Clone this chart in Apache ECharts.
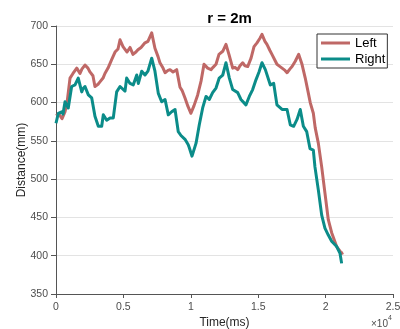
<!DOCTYPE html>
<html>
<head>
<meta charset="utf-8">
<script src="https://cdn.jsdelivr.net/npm/echarts@6/dist/echarts.min.js"></script>
<style>
  html, body { margin: 0; padding: 0; background: #fff; }
  #chart { width: 400px; height: 329px; }
</style>
</head>
<body>
<div id="chart"></div>
<script>
// Distance measured by the left and right sensors over time (r = 2m)
const leftTime = [0, 220, 450, 670, 820, 1040, 1260, 1540, 1780, 1930, 2150, 2370, 2520, 2740, 2890, 3120, 3260, 3490, 3630, 3860, 4130, 4380, 4600, 4750, 4970, 5270, 5490, 5710, 5930, 6080, 6310, 6600, 6820, 7100, 7340, 7570, 7710, 7940, 8090, 8310, 8460, 8680, 8950, 9200, 9350, 9570, 9790, 10010, 10240, 10510, 10760, 10980, 11250, 11500, 11650, 11870, 12090, 12370, 12610, 12830, 13110, 13280, 13480, 13650, 13850, 14020, 14220, 14470, 14690, 14910, 15130, 15280, 15500, 15650, 15870, 16020, 16250, 16390, 16620, 16770, 16990, 17140, 17360, 17510, 17750, 18000, 18250, 18490, 18690, 18860, 19090, 19230, 19460, 19710, 19950, 20200, 20450, 20820, 21190, 21310];
const leftDist = [583, 585, 579, 588, 600, 632, 638, 645, 638, 644, 649, 645, 640, 635, 621, 624, 627, 632, 638, 645, 656, 666, 670, 682, 673, 666, 672, 663, 666, 669, 672, 678, 680, 691, 671, 660, 652, 645, 639, 642, 643, 640, 643, 620, 616, 606, 595, 586, 596, 610, 628, 650, 645, 643, 646, 650, 663, 667, 676, 663, 645, 646, 643, 648, 652, 648, 647, 658, 673, 678, 684, 689, 680, 676, 668, 663, 655, 650, 647, 645, 642, 639, 644, 647, 654, 663, 650, 632, 615, 600, 586, 567, 547, 516, 482, 447, 430, 412, 403, 404];

const rightTime = [0, 170, 420, 520, 670, 910, 1160, 1410, 1650, 1910, 2000, 2150, 2400, 2650, 2890, 3140, 3390, 3510, 3760, 4010, 4250, 4500, 4750, 5120, 5240, 5490, 5730, 5990, 6110, 6360, 6600, 6820, 7100, 7200, 7340, 7590, 7840, 8090, 8330, 8580, 8830, 9070, 9270, 9570, 9810, 9890, 10090, 10390, 10630, 10880, 11130, 11370, 11620, 11870, 12110, 12370, 12610, 12860, 13110, 13480, 13720, 14090, 14340, 14590, 14840, 15060, 15280, 15530, 15900, 16150, 16390, 16770, 17140, 17380, 17630, 17880, 18120, 18350, 18600, 18840, 19090, 19210, 19460, 19710, 19950, 20200, 20450, 20820, 21070, 21190];
const rightDist = [573, 586, 588, 585, 601, 593, 621, 623, 632, 614, 618, 621, 610, 606, 582, 569, 569, 584, 577, 580, 580, 614, 621, 615, 632, 625, 623, 636, 625, 641, 636, 641, 658, 660, 641, 612, 601, 604, 584, 588, 591, 562, 557, 552, 545, 541, 530, 547, 571, 593, 608, 604, 613, 619, 632, 636, 652, 632, 617, 613, 604, 597, 608, 617, 630, 640, 652, 643, 623, 625, 597, 591, 591, 571, 569, 578, 591, 569, 562, 540, 538, 516, 486, 453, 436, 427, 419, 412, 403, 390];

const seriesNames = ['Left', 'Right'];
const seriesColors = ['#bf6866', '#0b8c89'];
const xTickLabels = ['0', '0.5', '1', '1.5', '2', '2.5'];

const FONT = 'Liberation Sans, Arial, Helvetica, sans-serif';

function pairs(ts, vs) {
  return ts.map((t, i) => [t, vs[i]]);
}

const chart = echarts.init(document.getElementById('chart'), null, { renderer: 'canvas' });

chart.setOption({
  backgroundColor: '#ffffff',
  animation: false,
  title: {
    text: 'r = 2m',
    left: 224.5,
    textAlign: 'center',
    top: 6,
    textStyle: { fontFamily: FONT, fontSize: 15, fontWeight: 'bold', color: '#000' }
  },
  grid: { left: 56, right: 7, top: 26, bottom: 35, containLabel: false, outerBoundsMode: 'none' },
  legend: {
    data: seriesNames,
    orient: 'vertical',
    left: 317,
    top: 34,
    icon: 'rect',
    itemWidth: 29,
    itemHeight: 3,
    itemGap: 2,
    padding: [2, 2, 2, 4],
    backgroundColor: '#ffffff',
    borderColor: '#333333',
    borderWidth: 1,
    textStyle: { fontFamily: FONT, fontSize: 13, color: '#000', lineHeight: 14 }
  },
  xAxis: {
    type: 'value',
    min: 0,
    max: 25000,
    interval: 5000,
    name: 'Time(ms)',
    nameLocation: 'middle',
    nameGap: 23,
    nameMoveOverlap: false,
    nameTextStyle: { fontFamily: FONT, fontSize: 12, color: '#262626' },
    axisLine: { show: true, lineStyle: { color: '#555', width: 1 } },
    axisTick: { show: true, inside: false, length: 4, lineStyle: { color: '#555' } },
    axisLabel: {
      fontFamily: FONT, fontSize: 10.5, color: '#4d4d4d', margin: 8,
      formatter: (v) => xTickLabels[Math.round(v / 5000)]
    },
    splitLine: { show: false }
  },
  yAxis: {
    type: 'value',
    min: 350,
    max: 700,
    interval: 50,
    name: 'Distance(mm)',
    nameLocation: 'middle',
    nameGap: 28,
    nameMoveOverlap: false,
    nameRotate: 90,
    nameTextStyle: { fontFamily: FONT, fontSize: 12, color: '#262626' },
    axisLine: { show: true, lineStyle: { color: '#555', width: 1 } },
    axisTick: { show: true, inside: false, length: 5, lineStyle: { color: '#555' } },
    axisLabel: { fontFamily: FONT, fontSize: 10.5, color: '#4d4d4d', margin: 8 },
    splitLine: { show: true, lineStyle: { color: '#e3e3e3', width: 1 } }
  },
  graphic: [{
    type: 'text',
    left: 371,
    top: 315,
    style: {
      text: '{a|×10}{b|4}',
      rich: {
        a: { fontFamily: FONT, fontSize: 10, fill: '#4d4d4d', padding: [4, 0, 0, 0] },
        b: { fontFamily: FONT, fontSize: 7, fill: '#4d4d4d', verticalAlign: 'top' }
      }
    }
  }],
  series: [
    {
      name: seriesNames[0],
      type: 'line',
      data: pairs(leftTime, leftDist),
      showSymbol: false,
      symbol: 'none',
      lineStyle: { color: seriesColors[0], width: 3, join: 'round' },
      itemStyle: { color: seriesColors[0] },
      z: 2
    },
    {
      name: seriesNames[1],
      type: 'line',
      data: pairs(rightTime, rightDist),
      showSymbol: false,
      symbol: 'none',
      lineStyle: { color: seriesColors[1], width: 3, join: 'round' },
      itemStyle: { color: seriesColors[1] },
      z: 3
    }
  ]
});
</script>
</body>
</html>
